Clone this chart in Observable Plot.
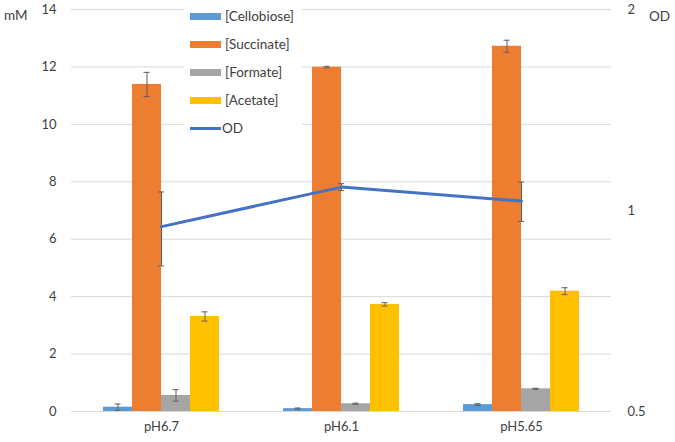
<!DOCTYPE html>
<html><head><meta charset="utf-8">
<script src="https://cdn.jsdelivr.net/npm/d3@7"></script>
<script src="https://cdn.jsdelivr.net/npm/@observablehq/plot@0.6"></script>
<style>
body{margin:0;background:#fff;}
#wrap{position:relative;width:675px;height:442px;font-family:Lato,"Open Sans",sans-serif;color:#404040;}
#wrap svg{position:absolute;left:0;top:0;background:transparent;}
#legend{position:absolute;left:184px;top:2px;width:118px;height:138px;background:#fff;font-size:13.5px;}
.li{position:absolute;left:6px;height:20px;display:flex;align-items:center;white-space:nowrap;}
.sw{width:31px;height:7px;margin-right:4px;}
.lab{position:absolute;font-size:13.5px;line-height:16px;}
</style></head>
<body>
<div id="wrap"></div>
<script>
const conditions = ["pH6.7", "pH6.1", "pH5.65"];
const series = ["[Cellobiose]", "[Succinate]", "[Formate]", "[Acetate]"];
const colors = ["#5B9BD5", "#ED7D31", "#A5A5A5", "#FFC000"];
const cellobiose = [0.15, 0.10, 0.24];
const cellobioseErr = [0.11, 0.02, 0.03];
const succinate = [11.39, 11.99, 12.72];
const succinateErr = [0.42, 0.03, 0.21];
const formate = [0.56, 0.27, 0.79];
const formateErr = [0.2, 0.02, 0.02];
const acetate = [3.31, 3.73, 4.19];
const acetateErr = [0.16, 0.06, 0.12];
const od = [0.946, 1.084, 1.033];
const odErr = [0.12, 0.013, 0.07];
const mmTicks = [0, 2, 4, 6, 8, 10, 12, 14];
const odTicks = [0.5, 1, 2];
const lineColor = "#4472C4";

const vals = [cellobiose, succinate, formate, acetate];
const errs = [cellobioseErr, succinateErr, formateErr, acetateErr];
const rows = [];
conditions.forEach((c, i) => series.forEach((s, j) => rows.push({cond: c, series: s, value: vals[j][i], err: errs[j][i]})));
const odRows = conditions.map((c, i) => ({cond: c, od: od[i], err: odErr[i]}));

const W = 675, H = 442, mt = 9, mb = 31, ml = 70, mr = 63;
const font = {fontSize: "13px", fontFamily: "Lato, 'Open Sans', sans-serif", color: "#404040", background: "transparent"};
const errColor = "#606060";

const bars = Plot.plot({
  width: W, height: H, marginTop: mt, marginBottom: mb, marginLeft: ml, marginRight: mr,
  style: font,
  fx: {domain: conditions, paddingInner: 0, paddingOuter: 0, label: null, axis: "bottom", tickSize: 0, tickPadding: 10},
  x: {domain: series, paddingInner: 0, paddingOuter: 1.08, axis: null},
  y: {domain: [0, 14], label: null, axis: null},
  color: {domain: series, range: colors},
  marks: [
    Plot.ruleY(mmTicks, {stroke: "#d9d9d9", strokeWidth: 1}),
    Plot.axisY(mmTicks, {anchor: "left", tickSize: 0, tickPadding: 15, label: null, fontSize: 13}),
    Plot.barY(rows, {fx: "cond", x: "series", y: "value", fill: "series"}),
    Plot.ruleX(rows, {fx: "cond", x: "series", y1: d => d.value - d.err, y2: d => d.value + d.err, stroke: errColor, strokeWidth: 1}),
    Plot.tickY(rows, {fx: "cond", x: "series", y: d => d.value - d.err, stroke: errColor, strokeWidth: 1, insetLeft: 11.5, insetRight: 11.5}),
    Plot.tickY(rows, {fx: "cond", x: "series", y: d => d.value + d.err, stroke: errColor, strokeWidth: 1, insetLeft: 11.5, insetRight: 11.5})
  ]
});

const bw = (W - ml - mr) / conditions.length;
const capInset = (bw - 7) / 2;
const line = Plot.plot({
  width: W, height: H, marginTop: mt, marginBottom: mb, marginLeft: ml, marginRight: mr,
  style: font,
  x: {domain: conditions, type: "band", paddingInner: 0, paddingOuter: 0, axis: null},
  y: {type: "log", domain: [0.5, 2], label: null, axis: null},
  marks: [
    Plot.axisY(odTicks, {anchor: "right", tickSize: 0, tickPadding: 15, label: null, tickFormat: d => String(d), fontSize: 13}),
    Plot.ruleX(odRows, {x: "cond", y1: d => d.od - d.err, y2: d => d.od + d.err, stroke: errColor, strokeWidth: 1}),
    Plot.tickY(odRows, {x: "cond", y: d => d.od - d.err, stroke: errColor, strokeWidth: 1, insetLeft: capInset, insetRight: capInset}),
    Plot.tickY(odRows, {x: "cond", y: d => d.od + d.err, stroke: errColor, strokeWidth: 1, insetLeft: capInset, insetRight: capInset}),
    Plot.lineY(odRows, {x: "cond", y: "od", stroke: lineColor, strokeWidth: 3})
  ]
});

const wrap = document.getElementById("wrap");
wrap.appendChild(bars);

// legend (HTML), drawn over the bar chart gridlines
const legend = document.createElement("div");
legend.id = "legend";
const items = series.map((s, i) => ({label: s, color: colors[i], type: "bar"})).concat([{label: "OD", color: lineColor, type: "line"}]);
items.forEach((it, i) => {
  const d = document.createElement("div");
  d.className = "li";
  d.style.top = (4 + i * 28) + "px";
  const sw = document.createElement("span");
  sw.className = "sw";
  sw.style.background = it.color;
  if (it.type === "line") { sw.style.height = "3px"; sw.style.marginRight = "1px"; }
  d.appendChild(sw);
  const t = document.createElement("span");
  t.textContent = it.label;
  d.appendChild(t);
  legend.appendChild(d);
});
wrap.appendChild(legend);
wrap.appendChild(line);

const mm = document.createElement("div");
mm.className = "lab"; mm.textContent = "mM"; mm.style.left = "4px"; mm.style.top = "7px";
wrap.appendChild(mm);
const odl = document.createElement("div");
odl.className = "lab"; odl.textContent = "OD"; odl.style.left = "649px"; odl.style.top = "8px";
wrap.appendChild(odl);
</script>
</body></html>
